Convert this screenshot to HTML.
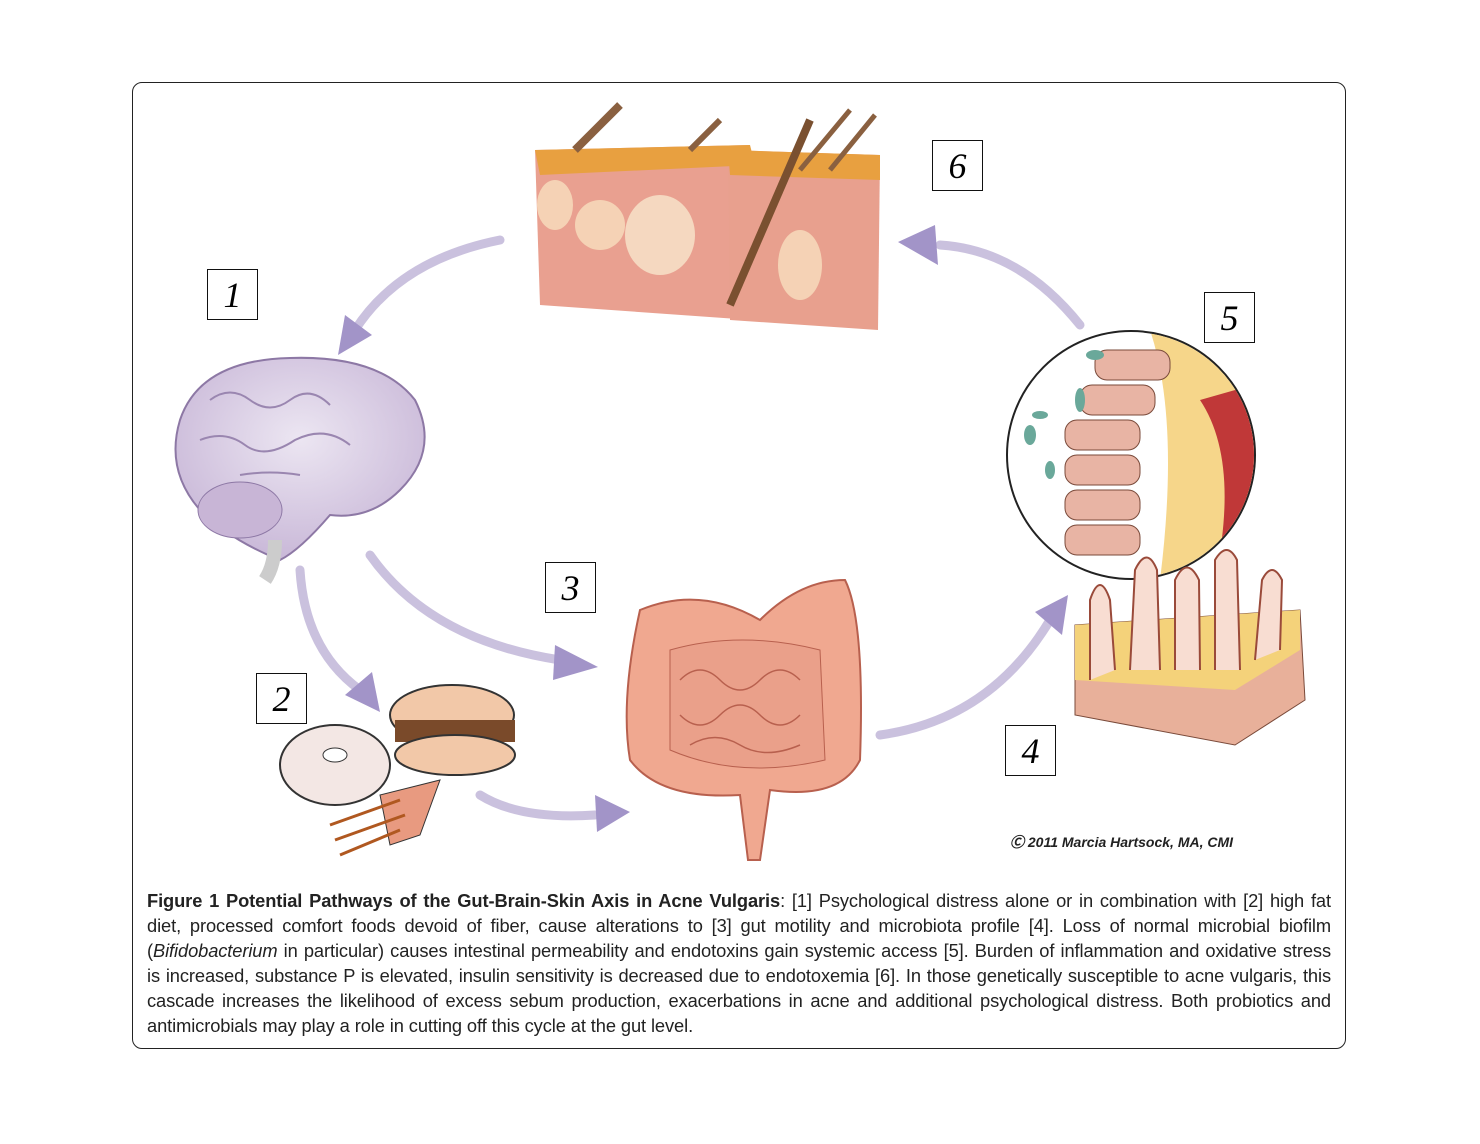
<!DOCTYPE html>
<html><head><meta charset="utf-8"><style>
body{margin:0;width:1480px;height:1144px;background:#fff;position:relative;overflow:hidden;font-family:"Liberation Sans",sans-serif}
.frame{position:absolute;left:132px;top:82px;width:1214px;height:967px;border:1.5px solid #222;border-radius:10px;box-sizing:border-box}
.num{position:absolute;width:51px;height:51px;border:1.5px solid #111;box-sizing:border-box;font-family:"Liberation Serif",serif;font-style:italic;font-size:36px;text-align:center;line-height:50px;background:#fff}
.cap{position:absolute;left:147px;width:1184px;font-size:18.3px;color:#222;white-space:nowrap;letter-spacing:-0.1px}
.j{text-align:justify;text-align-last:justify}
.copy{position:absolute;left:1010px;top:832px;font-size:14px;font-style:italic;font-weight:bold;color:#222}
</style></head><body>
<div class="frame"></div>
<svg width="1480" height="1144" style="position:absolute;left:0;top:0">
<defs>
<radialGradient id="br" cx="0.5" cy="0.4" r="0.6"><stop offset="0" stop-color="#ece6f2"/><stop offset="1" stop-color="#c9b8d8"/></radialGradient>
</defs>
<g fill="none" stroke="#b3a6d0" stroke-width="9" stroke-linecap="round">
<path d="M500 240 Q400 260 355 330" stroke-opacity="0.7"/>
<path d="M1080 325 Q1020 250 940 245" stroke-opacity="0.7"/>
<path d="M300 570 Q305 650 360 690" stroke-opacity="0.7"/>
<path d="M370 555 Q430 640 560 660" stroke-opacity="0.7"/>
<path d="M480 795 Q520 820 595 815" stroke-opacity="0.7"/>
<path d="M880 735 Q990 720 1050 620" stroke-opacity="0.7"/>
</g>
<g fill="#a294c8">
<polygon points="338,355 345,315 372,335"/>
<polygon points="898,242 935,225 938,265"/>
<polygon points="380,712 345,695 372,672"/>
<polygon points="598,667 555,645 553,680"/>
<polygon points="630,812 595,795 597,832"/>
<polygon points="1068,595 1035,612 1062,635"/>
</g>
<path d="M535 150 L750 145 L752 320 L540 305 Z" fill="#e9a090"/>
<path d="M728 150 L880 155 L878 330 L730 320 Z" fill="#e8a08e"/>
<path d="M535 150 L750 145 L755 165 L540 175 Z" fill="#e8a040"/>
<path d="M728 150 L880 155 L880 180 L730 175 Z" fill="#e8a040"/>
<ellipse cx="660" cy="235" rx="35" ry="40" fill="#f5d8c0"/>
<ellipse cx="600" cy="225" rx="25" ry="25" fill="#f5d2b5"/>
<ellipse cx="555" cy="205" rx="18" ry="25" fill="#f5d2b5"/>
<ellipse cx="800" cy="265" rx="22" ry="35" fill="#f5d2b5"/>
<path d="M730 305 L810 120" stroke="#7a5030" stroke-width="8"/>
<path d="M575 150 L620 105" stroke="#8a6040" stroke-width="8"/>
<path d="M690 150 L720 120" stroke="#8a6040" stroke-width="6"/>
<path d="M800 170 L850 110 M830 170 L875 115" stroke="#8a6040" stroke-width="5"/>
<path d="M180 420 Q200 360 290 358 Q380 355 415 400 Q440 450 400 490 Q370 520 330 515 Q300 550 280 560 Q230 540 200 510 Q165 470 180 420 Z" fill="url(#br)" stroke="#8d78a5" stroke-width="2"/>
<ellipse cx="240" cy="510" rx="42" ry="28" fill="#c8b5d6" stroke="#8d78a5"/>
<path d="M275 540 Q275 565 265 580" stroke="#ccc" stroke-width="14" fill="none"/>
<g stroke="#9a86b0" stroke-width="2" fill="none"><path d="M210 400 q20 -15 40 0 q20 15 40 0 q20 -15 40 5"/><path d="M200 440 q25 -10 45 5 q20 15 50 -5 q30 -15 55 5"/><path d="M240 475 q30 -5 60 0"/></g>
<ellipse cx="335" cy="765" rx="55" ry="40" fill="#f3e7e4" stroke="#333" stroke-width="2"/>
<ellipse cx="335" cy="755" rx="12" ry="7" fill="#fff" stroke="#333"/>
<ellipse cx="452" cy="715" rx="62" ry="30" fill="#f2c8a8" stroke="#333" stroke-width="2"/>
<rect x="395" y="720" width="120" height="22" fill="#7a4a2a"/>
<ellipse cx="455" cy="755" rx="60" ry="20" fill="#f2c8a8" stroke="#333" stroke-width="2"/>
<path d="M380 795 L440 780 L420 835 L390 845 Z" fill="#e89a80" stroke="#333"/>
<g stroke="#b05820" stroke-width="3"><path d="M330 825 L400 800 M335 840 L405 815 M340 855 L400 830"/></g>
<path d="M640 610 Q700 585 760 620 Q800 580 845 580 Q865 620 860 760 Q840 800 770 790 L760 860 L748 860 L740 795 Q660 800 630 760 Q620 700 640 610 Z" fill="#f0a890" stroke="#b8604e" stroke-width="2"/>
<path d="M670 650 Q740 630 820 650 L825 760 Q740 780 670 750 Z" fill="#eaa08a" stroke="#b8604e"/>
<g stroke="#b8604e" fill="none" stroke-width="1.5"><path d="M680 680 q20 -20 40 0 q20 20 40 0 q20 -20 40 0"/><path d="M680 715 q20 20 40 0 q20 -20 40 0 q20 20 40 0"/><path d="M690 745 q25 -15 50 0 q25 15 60 0"/></g>
<circle cx="1131" cy="455" r="124" fill="#fff" stroke="#222" stroke-width="2"/>
<clipPath id="cc"><circle cx="1131" cy="455" r="123"/></clipPath>
<g clip-path="url(#cc)">
<path d="M1150 330 Q1180 420 1160 580 L1270 580 L1270 330 Z" fill="#f6d68a"/>
<path d="M1200 400 Q1240 460 1215 580 L1270 580 L1270 380 Z" fill="#c03838"/>
<g fill="#e8b4a4" stroke="#7a4a3a">
<rect x="1065" y="420" width="75" height="30" rx="12"/><rect x="1065" y="455" width="75" height="30" rx="12"/><rect x="1065" y="490" width="75" height="30" rx="12"/><rect x="1065" y="525" width="75" height="30" rx="12"/><rect x="1080" y="385" width="75" height="30" rx="12"/><rect x="1095" y="350" width="75" height="30" rx="12"/>
</g>
<g fill="#6aa89a"><ellipse cx="1030" cy="435" rx="6" ry="10"/><ellipse cx="1050" cy="470" rx="5" ry="9"/><ellipse cx="1080" cy="400" rx="5" ry="12"/><ellipse cx="1095" cy="355" rx="9" ry="5"/><ellipse cx="1040" cy="415" rx="8" ry="4"/></g>
</g>
<path d="M1075 625 L1300 610 L1305 700 L1235 745 L1075 715 Z" fill="#e8b09a" stroke="#7a4a3a"/>
<path d="M1075 625 L1300 610 L1300 650 L1235 690 L1075 680 Z" fill="#f4d27a"/>
<g fill="#f8ddd2" stroke="#9a4a3a" stroke-width="2"><path d="M1090 680 L1090 600 q10 -30 20 0 L1115 670"/><path d="M1130 670 L1135 570 q12 -25 22 0 L1160 670"/><path d="M1175 670 L1175 580 q12 -25 24 0 L1200 670"/><path d="M1215 670 L1215 560 q12 -20 22 0 L1240 670"/><path d="M1255 660 L1262 580 q10 -20 20 0 L1280 650"/></g>
</svg>
<div class="num" style="left:207px;top:269px">1</div>
<div class="num" style="left:256px;top:673px">2</div>
<div class="num" style="left:545px;top:562px">3</div>
<div class="num" style="left:1005px;top:725px">4</div>
<div class="num" style="left:1204px;top:292px">5</div>
<div class="num" style="left:932px;top:140px">6</div>
<div class="copy">Ⓒ 2011 Marcia Hartsock, MA, CMI</div>
<div class="cap j" style="top:890px"><b>Figure 1 Potential Pathways of the Gut-Brain-Skin Axis in Acne Vulgaris</b>: [1] Psychological distress alone or in combination with [2] high fat</div>
<div class="cap j" style="top:915px">diet, processed comfort foods devoid of fiber, cause alterations to [3] gut motility and microbiota profile [4]. Loss of normal microbial biofilm</div>
<div class="cap j" style="top:940px">(<i>Bifidobacterium</i> in particular) causes intestinal permeability and endotoxins gain systemic access [5]. Burden of inflammation and oxidative stress</div>
<div class="cap j" style="top:965px">is increased, substance P is elevated, insulin sensitivity is decreased due to endotoxemia [6]. In those genetically susceptible to acne vulgaris, this</div>
<div class="cap j" style="top:990px">cascade increases the likelihood of excess sebum production, exacerbations in acne and additional psychological distress. Both probiotics and</div>
<div class="cap" style="top:1015px">antimicrobials may play a role in cutting off this cycle at the gut level.</div>
</body></html>
